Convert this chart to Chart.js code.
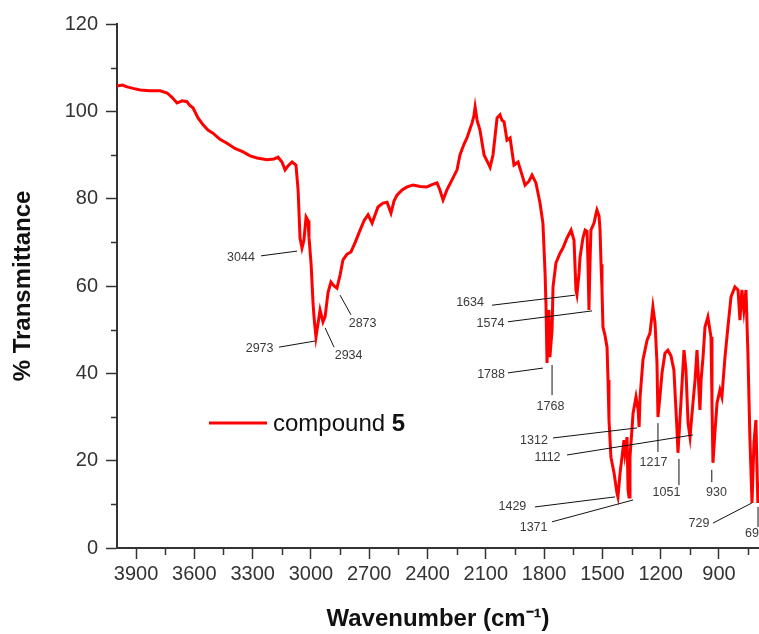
<!DOCTYPE html>
<html>
<head>
<meta charset="utf-8">
<script src="https://cdn.jsdelivr.net/npm/chart.js@4"></script>
<style>
	html, body { margin: 0; padding: 0; background: #fff; }
	canvas { display: block; }
</style>
</head>
<body>
<canvas id="ir-canvas" width="759" height="634"></canvas>
<script>
// spectrum (cm-1 / %T)
const wavenumbers = [
	3998, 3970, 3946, 3910, 3879, 3828, 3776, 3740, 3715, 3689, 3663, 3638, 3622, 3607, 3581, 3555,
	3530, 3504, 3468, 3432, 3391, 3349, 3313, 3277, 3226, 3190, 3169, 3149, 3133, 3118, 3097, 3077,
	3066, 3056, 3046, 3036, 3025, 3015, 3010, 2999, 2989, 2984, 2974, 2963, 2953, 2938, 2927, 2912,
	2897, 2881, 2866, 2850, 2835, 2814, 2794, 2772, 2747, 2726, 2706, 2685, 2655, 2629, 2608, 2588,
	2572, 2557, 2531, 2505, 2474, 2438, 2403, 2377, 2351, 2336, 2320, 2300, 2274, 2248, 2233, 2212,
	2197, 2171, 2161, 2155, 2145, 2130, 2109, 2089, 2078, 2063, 2053, 2042, 2027, 2017, 2006, 1991,
	1975, 1955, 1934, 1914, 1898, 1878, 1862, 1842, 1821, 1806, 1795, 1790, 1785, 1775, 1770, 1759,
	1754, 1739, 1718, 1703, 1682, 1661, 1646, 1636, 1631, 1620, 1615, 1600, 1589, 1579, 1574, 1569,
	1564, 1559, 1543, 1533, 1528, 1517, 1512, 1507, 1502, 1497, 1487, 1476, 1471, 1466, 1456, 1440,
	1425, 1420, 1409, 1399, 1389, 1384, 1373, 1368, 1363, 1358, 1342, 1327, 1316, 1311, 1306, 1291,
	1270, 1255, 1240, 1229, 1219, 1214, 1204, 1193, 1178, 1163, 1147, 1132, 1116, 1111, 1096, 1080,
	1070, 1059, 1049, 1034, 1023, 1013, 998, 992, 982, 972, 957, 941, 936, 931, 920, 910,
	895, 885, 869, 854, 838, 818, 802, 792, 782, 772, 761, 751, 741, 730, 720, 710,
	700, 694
];
const transmittance = [
	105.8, 106.0, 105.6, 105.2, 104.9, 104.7, 104.7, 104.2, 103.2, 101.9, 102.4, 102.2, 101.3, 100.8, 98.5, 96.9,
	95.7, 95.0, 93.6, 92.7, 91.5, 90.7, 89.8, 89.3, 88.9, 89.1, 89.5, 88.4, 86.6, 87.5, 88.4, 87.7,
	82.0, 71.0, 68.7, 70.5, 75.8, 75.0, 71.2, 65.0, 56.0, 52.9, 48.3, 51.5, 54.5, 51.8, 53.0, 58.5,
	60.9, 60.0, 59.5, 62.5, 66.0, 67.3, 67.8, 70.0, 72.8, 75.0, 76.3, 74.4, 78.1, 79.0, 79.2, 76.7,
	79.5, 80.8, 82.0, 82.7, 83.1, 82.8, 82.7, 83.2, 83.6, 82.0, 79.7, 82.0, 84.3, 86.6, 90.0, 92.5,
	93.9, 97.3, 99.0, 101.0, 98.0, 95.7, 90.0, 88.2, 87.2, 90.0, 94.0, 98.5, 99.2, 98.0, 97.6, 93.4,
	93.9, 87.7, 88.4, 85.5, 83.1, 84.0, 85.4, 83.6, 79.0, 74.4, 63.0, 55.2, 42.4, 54.5, 43.7, 49.9,
	59.8, 65.3, 67.5, 68.7, 71.0, 72.8, 70.5, 59.1, 58.0, 63.0, 66.6, 71.0, 72.8, 72.5, 65.0, 54.5,
	65.0, 72.8, 74.4, 76.5, 77.4, 76.0, 72.8, 65.0, 59.1, 50.6, 48.8, 46.0, 38.5, 29.3, 20.8, 17.2,
	12.6, 11.7, 17.2, 20.8, 24.7, 21.8, 25.4, 13.3, 11.7, 20.8, 30.9, 34.6, 31.6, 27.7, 34.6, 43.1,
	47.6, 49.2, 55.2, 51.5, 42.4, 30.0, 34.6, 40.1, 44.6, 45.3, 44.0, 40.8, 27.0, 21.8, 33.2, 45.3,
	40.8, 28.6, 25.4, 33.2, 38.5, 45.3, 31.6, 38.5, 43.7, 50.6, 52.9, 48.3, 33.2, 19.5, 27.0, 33.2,
	36.2, 34.6, 43.7, 50.6, 57.5, 59.8, 59.1, 52.2, 59.1, 54.5, 59.1, 44.6, 25.4, 10.3, 24.0, 29.3,
	10.3, 15.0
];

const xTicks = [3900, 3600, 3300, 3000, 2700, 2400, 2100, 1800, 1500, 1200, 900];
const xMinorTicks = [3750, 3450, 3150, 2850, 2550, 2250, 1950, 1650, 1350, 1050, 750];
const yMinorTicks = [10, 30, 50, 70, 90, 110];

const seriesName = "compound ";
const seriesNumber = "5";

// peak labels: text, label centre, leader line ends (all in axis units)
const peakLabels = [
	{text: "3044", at: [3360, 66.6], from: [3257, 66.9], to: [3071, 68.0]},
	{text: "2973", at: [3264, 45.6], from: [3164, 46.0], to: [2979, 47.4]},
	{text: "2934", at: [2806, 44.0], from: [2927, 50.4], to: [2881, 46.0]},
	{text: "2873", at: [2734, 51.5], from: [2850, 57.9], to: [2794, 53.4]},
	{text: "1634", at: [2181, 56.1], from: [2068, 55.6], to: [1641, 57.9]},
	{text: "1574", at: [2076, 51.5], from: [1986, 51.8], to: [1553, 54.3]},
	{text: "1788", at: [2073, 39.8], from: [1986, 40.1], to: [1806, 41.2]},
	{text: "1768", at: [1767, 32.5], from: [1759, 41.9], to: [1759, 35.0]},
	{text: "1312", at: [1852, 24.7], from: [1754, 25.2], to: [1322, 27.5]},
	{text: "1112", at: [1782, 20.6], from: [1682, 21.3], to: [1034, 25.9]},
	{text: "1217", at: [1237, 19.5], from: [1214, 28.6], to: [1214, 22.0]},
	{text: "1051", at: [1170, 12.8], from: [1106, 20.4], to: [1106, 14.4]},
	{text: "930", at: [913, 12.6], from: [937, 17.9], to: [937, 15.1]},
	{text: "1429", at: [1963, 9.4], from: [1847, 9.4], to: [1435, 11.7]},
	{text: "1371", at: [1854, 4.6], from: [1759, 6.0], to: [1342, 11.0]},
	{text: "729", at: [1003, 5.5], from: [931, 5.7], to: [731, 10.3]},
	{text: "699", at: [712, 3.4], from: [699, 9.4], to: [699, 4.8]},
];

const FONT = "'Liberation Sans', Arial, sans-serif";
const AXIS = '#333';

const points = wavenumbers.map((w, i) => ({x: w, y: transmittance[i]}));

// short minor ticks, outside the frame
const minorTicks = {
	id: 'minorTicks',
	afterDraw(chart) {
		const ctx = chart.ctx;
		const {x, y} = chart.scales;
		const ca = chart.chartArea;
		ctx.save();
		ctx.strokeStyle = AXIS;
		ctx.lineWidth = 1.5;
		ctx.beginPath();
		xMinorTicks.forEach(v => {
			const px = Math.round(x.getPixelForValue(v)) + 0.5;
			ctx.moveTo(px, ca.bottom);
			ctx.lineTo(px, ca.bottom + 7);
		});
		yMinorTicks.forEach(v => {
			const py = Math.round(y.getPixelForValue(v)) + 0.5;
			ctx.moveTo(ca.left, py);
			ctx.lineTo(ca.left - 6, py);
		});
		ctx.stroke();
		ctx.restore();
	}
};

const peakNotes = {
	id: 'peakNotes',
	afterDatasetsDraw(chart) {
		const ctx = chart.ctx;
		const {x, y} = chart.scales;
		ctx.save();
		ctx.strokeStyle = '#111';
		ctx.lineWidth = 1;
		ctx.fillStyle = '#3a3a3a';
		ctx.font = '12.5px ' + FONT;
		ctx.textAlign = 'center';
		ctx.textBaseline = 'middle';
		peakLabels.forEach(p => {
			ctx.beginPath();
			ctx.moveTo(x.getPixelForValue(p.from[0]), y.getPixelForValue(p.from[1]));
			ctx.lineTo(x.getPixelForValue(p.to[0]), y.getPixelForValue(p.to[1]));
			ctx.stroke();
			ctx.fillText(p.text, x.getPixelForValue(p.at[0]), y.getPixelForValue(p.at[1]));
		});
		ctx.restore();
	}
};

// legend with a bold compound number
const boxLegend = {
	id: 'boxLegend',
	afterDraw(chart) {
		const ctx = chart.ctx;
		const ca = chart.chartArea;
		const lx = ca.left + 92;
		const ly = ca.top + 399;
		ctx.save();
		ctx.strokeStyle = '#ff0000';
		ctx.lineWidth = 3;
		ctx.beginPath();
		ctx.moveTo(lx, ly);
		ctx.lineTo(lx + 58, ly);
		ctx.stroke();
		ctx.fillStyle = '#111';
		ctx.textBaseline = 'middle';
		ctx.font = '24px ' + FONT;
		ctx.fillText(seriesName, lx + 64, ly + 1);
		const w = ctx.measureText(seriesName).width;
		ctx.font = 'bold 24px ' + FONT;
		ctx.fillText(seriesNumber, lx + 64 + w, ly + 1);
		ctx.restore();
	}
};

window.addEventListener('load', e => {
	new Chart('ir-canvas', {
		type: 'line',
		data: {
			datasets: [{
				label: seriesName + seriesNumber,
				data: points,
				borderColor: '#ff0000',
				borderWidth: 3,
				pointRadius: 0,
				tension: 0,
				fill: false,
			}],
		},
		options: {
			responsive: false,
			animation: false,
			devicePixelRatio: 1,
			layout: {padding: {top: 24, right: 0, left: 0, bottom: 0}},
			plugins: {
				legend: {display: false},
				tooltip: {enabled: false},
			},
			scales: {
				x: {
					type: 'linear',
					reverse: true,
					min: 694,
					max: 3998,
					afterBuildTicks: s => { s.ticks = xTicks.map(v => ({value: v})); },
					afterFit: s => { s.height = 86; },
					grid: {drawOnChartArea: false, tickLength: 11, tickColor: AXIS, tickWidth: 1.5},
					border: {color: AXIS, width: 2},
					ticks: {
						color: '#333',
						font: {family: FONT, size: 20},
						padding: 3,
						maxRotation: 0,
						autoSkip: false,
						callback: v => String(v),
					},
					title: {
						display: true,
						text: 'Wavenumber (cm\u207B\u00B9)',
						color: '#111',
						font: {family: FONT, size: 24, weight: 'bold'},
						padding: {top: 0, bottom: 0},
					},
				},
				y: {
					min: 0,
					max: 120,
					afterFit: s => { s.width = 117; },
					grid: {drawOnChartArea: false, tickLength: 11, tickColor: AXIS, tickWidth: 1.5},
					border: {color: AXIS, width: 2},
					ticks: {
						stepSize: 20,
						color: '#333',
						font: {family: FONT, size: 20},
						padding: 8,
						callback: v => String(v),
					},
					title: {
						display: true,
						text: '% Transmittance',
						color: '#111',
						font: {family: FONT, size: 24, weight: 'bold'},
						padding: {top: 9, bottom: 0},
					},
				},
			},
		},
		plugins: [minorTicks, peakNotes, boxLegend],
	});
});
</script>
</body>
</html>
